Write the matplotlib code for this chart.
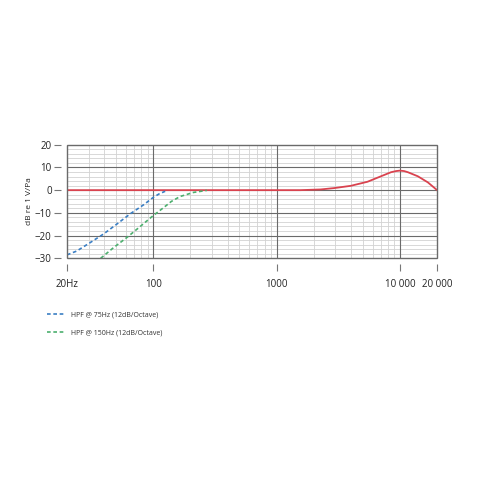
import matplotlib
matplotlib.use("Agg")
import matplotlib.pyplot as plt
from matplotlib.ticker import FixedLocator, NullFormatter
from matplotlib.lines import Line2D

plt.rcParams['font.family'] = ['Open Sans', 'DejaVu Sans']

# response curves
freq_flat = [20, 100, 1000, 1560, 2270, 2920, 3990, 5460, 7010, 8470, 9300,
             10000, 10800, 11590, 13970, 16860, 20000]
db_flat = [0, 0, 0, 0, 0.3, 0.9, 1.9, 3.7, 6.1, 7.9, 8.4,
           8.6, 8.4, 7.9, 6.1, 3.4, 0]

freq_75 = [20, 24, 30.8, 39.6, 50.8, 65.2, 83.8, 100, 112, 125]
db_75 = [-28.5, -26.8, -23.1, -19.3, -14.9, -10.4, -6.4, -3.2, -1.6, -0.5]

freq_150 = [37.5, 47.7, 61.3, 78.8, 100, 122, 140, 165, 212, 272]
db_150 = [-30, -25.3, -20.8, -15.9, -11.2, -7.6, -5.0, -2.8, -1.0, -0.1]

xticks = [20, 100, 1000, 10000, 20000]
xtick_labels = ["20Hz", "100", "1000", "10 000", "20 000"]
yticks = [-30, -20, -10, 0, 10, 20]

fig = plt.figure(figsize=(4.8, 4.8), dpi=100)
ax = fig.add_axes([0.1396, 0.4619, 0.771, 0.2366])

dash = (0, (2.2, 1.6))
ax.plot(freq_flat, db_flat, color="#d9434f", lw=1.3, zorder=4,
        solid_joinstyle="round")
ax.plot(freq_75, db_75, color="#3b7fc4", lw=1.2, ls=dash, zorder=4)
ax.plot(freq_150, db_150, color="#4caf6e", lw=1.2, ls=dash, zorder=4)

ax.set_xscale("log")
ax.set_xlim(20, 20000)
ax.set_ylim(-30, 20)

# grid
minor_x = [f * d for d in [10, 100, 1000] for f in range(2, 10)]
ax.xaxis.set_minor_locator(FixedLocator(minor_x))
ax.xaxis.set_minor_formatter(NullFormatter())
for x in minor_x:
    ax.axvline(x, color="#d2d2d2", lw=0.6, zorder=1)
for y in range(-30, 21, 2):
    ax.axhline(y, color="#d2d2d2", lw=0.6, zorder=1)
for x in [100, 1000, 10000]:
    ax.axvline(x, color="#6a6a6a", lw=0.8, zorder=2)
for y in [-20, -10, 0, 10]:
    ax.axhline(y, color="#6a6a6a", lw=0.8, zorder=2)

ax.set_xticks(xticks)
ax.set_xticklabels(xtick_labels)
ax.set_yticks(yticks)
ax.tick_params(which="minor", length=0)
ax.tick_params(which="major", length=5, width=0.8, color="#777777",
               labelsize=7, labelcolor="#222222")
ax.tick_params(axis="x", pad=6)
ax.tick_params(axis="y", pad=2)

# ticks drawn away from the frame
for side in ["bottom", "left"]:
    ax.spines[side].set_position(("outward", 4))
    ax.spines[side].set_color("none")
for side in ["top", "right"]:
    ax.spines[side].set_visible(False)
ax.add_patch(plt.Rectangle((0, 0), 1, 1, transform=ax.transAxes, fill=False,
                           edgecolor="#6a6a6a", lw=1.0, zorder=5, clip_on=False))

ax.set_ylabel("dB re 1 V/Pa", fontsize=6, color="#222222", labelpad=1)

# legend below the chart
handles = [
    Line2D([], [], color="#3b7fc4", lw=1.2, ls=dash),
    Line2D([], [], color="#4caf6e", lw=1.2, ls=dash),
]
fig.legend(handles, ["HPF @ 75Hz (12dB/Octave)", "HPF @ 150Hz (12dB/Octave)"],
           loc="upper left", bbox_to_anchor=(0.085, 0.365), frameon=False,
           fontsize=5, labelcolor="#333333", handlelength=2.6, handletextpad=0.8,
           labelspacing=1.6)

fig.savefig("out.png", dpi=100, facecolor="white")
